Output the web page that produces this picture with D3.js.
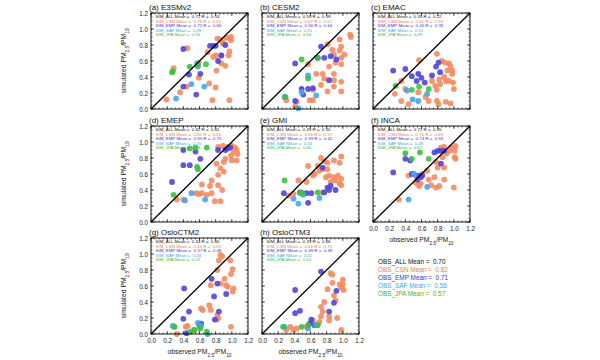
<!DOCTYPE html>
<html><head><meta charset="utf-8">
<script src="https://cdn.jsdelivr.net/npm/d3@7"></script>
<style>body{margin:0;background:#fff}svg{display:block;font-family:"Liberation Sans",Arial,Helvetica,sans-serif}</style>
</head><body><svg id="c" width="600" height="360"></svg>
<script>
// ---- Data ----
const models = ["E3SMv2","CESM2","EMAC","EMEP","GMI","INCA","OsloCTM2","OsloCTM3"];
const letters = ["a","b","c","d","e","f","g","h"];
const networks = ["CSN","EMP","SAF","JPA"];
const tickLabels = ["0.0","0.2","0.4","0.6","0.8","1.0","1.2"];
const simAllMean = ["0.72","0.59","0.35","0.82","0.45","0.72","0.34","0.33"];
const simAllR    = ["0.53","0.59","0.22","0.61","0.50","0.45","0.66","0.66"];
const simCsnMean = ["0.78","0.67","0.32","0.82","0.56","0.76","0.46","0.46"];
const simCsnR    = ["0.50","0.61","0.33","0.62","0.37","0.65","0.65","0.72"];
const simEmpMean = ["0.72","0.56","0.45","0.85","0.39","0.74","0.37","0.38"];
const simEmpR    = ["0.60","0.64","0.33","0.73","0.42","0.53","0.48","0.49"];
const simSafMean = ["0.39","0.31","0.15","0.45","0.34","0.48","0.04","0.02"];
const simJpaMean = ["0.56","0.54","0.29","0.79","0.40","0.67","0.07","0.10"];
const obsNames = ["OBS_ALL","OBS_CSN","OBS_EMP","OBS_SAF","OBS_JPA"];
const obsMeans = ["0.70","0.82","0.71","0.56","0.57"];

// observed (x), simulated (y) pairs per model and network
const E3SMv2_CSN = [[0.82,0.88],[0.85,0.87],[0.93,0.89],[0.97,0.89],[0.99,0.90],[0.99,0.86],[0.88,0.84],[0.89,0.82],[0.97,0.72],[0.70,0.71],[0.45,0.76],[0.80,0.67],[0.77,0.65],[0.87,0.67],[0.96,0.67],[0.87,0.57],[0.81,0.48],[0.59,0.58],[0.28,0.51],[0.59,0.39],[0.72,0.32],[0.80,0.27],[0.36,0.21],[0.19,0.12],[0.76,0.11],[0.97,0.11],[0.44,0.28],[0.92,0.54]];
const E3SMv2_EMP = [[0.40,0.75],[0.73,0.79],[0.77,0.79],[0.80,0.79],[0.92,0.80],[0.87,0.67],[0.83,0.60],[0.61,0.44],[0.47,0.43],[0.40,0.28],[0.56,0.18]];
const E3SMv2_SAF = [[0.58,0.53],[0.66,0.28],[0.50,0.31],[0.31,0.13],[0.57,0.57]];
const E3SMv2_JPA = [[0.26,0.46],[0.27,0.47],[0.48,0.53],[0.58,0.55],[0.68,0.56]];

const CESM2_CSN = [[1.09,0.93],[1.10,0.90],[0.96,0.87],[0.81,0.81],[0.98,0.78],[0.96,0.73],[0.87,0.74],[0.89,0.68],[1.02,0.68],[0.98,0.64],[0.91,0.58],[0.98,0.56],[0.83,0.53],[0.57,0.56],[0.75,0.44],[0.89,0.44],[0.77,0.38],[0.89,0.36],[0.98,0.34],[0.73,0.30],[0.81,0.22],[0.63,0.24],[0.59,0.11],[0.63,0.11],[0.43,0.09],[0.41,0.03],[0.30,0.11],[0.98,0.22],[0.89,0.28],[0.67,0.44]];
const CESM2_EMP = [[0.73,0.78],[0.41,0.57],[0.77,0.64],[0.85,0.66],[0.92,0.62],[0.69,0.64],[0.83,0.36],[0.57,0.25],[0.63,0.26],[0.51,0.18],[0.41,0.10],[0.49,0.25]];
const CESM2_SAF = [[0.57,0.42],[0.49,0.21],[0.67,0.17],[0.45,0.01],[0.28,0.15]];
const CESM2_JPA = [[0.49,0.62],[0.69,0.64],[0.57,0.38],[0.29,0.15]];

const EMAC_CSN = [[0.79,0.69],[0.85,0.60],[0.89,0.58],[0.94,0.57],[0.96,0.53],[0.98,0.48],[0.98,0.44],[0.92,0.48],[0.88,0.40],[0.90,0.35],[0.94,0.35],[0.99,0.33],[1.00,0.25],[0.82,0.37],[0.83,0.31],[0.77,0.29],[0.79,0.24],[0.73,0.35],[0.57,0.61],[0.35,0.35],[0.40,0.25],[0.56,0.21],[0.44,0.06],[0.35,0.10],[0.69,0.10],[0.79,0.10],[0.81,0.06],[0.90,0.09],[0.96,0.07],[0.65,0.15],[0.27,0.19]];
const EMAC_EMP = [[0.25,0.48],[0.40,0.50],[0.81,0.58],[0.78,0.53],[0.83,0.46],[0.56,0.44],[0.60,0.39],[0.54,0.35],[0.64,0.33],[0.73,0.42],[0.48,0.41]];
const EMAC_SAF = [[0.49,0.12],[0.56,0.10],[0.42,0.23],[0.67,0.19]];
const EMAC_JPA = [[0.28,0.29],[0.48,0.24],[0.57,0.28],[0.69,0.25]];

const EMEP_CSN = [[0.83,0.94],[0.89,0.95],[0.95,0.94],[1.00,0.95],[1.04,0.93],[1.06,0.90],[1.02,0.87],[1.07,0.85],[0.99,0.83],[0.92,0.79],[1.00,0.77],[1.06,0.77],[0.90,0.75],[0.81,0.73],[0.86,0.67],[0.83,0.59],[0.90,0.63],[0.75,0.52],[0.83,0.46],[0.88,0.40],[0.73,0.45],[0.63,0.47],[0.63,0.36],[0.75,0.36],[0.59,0.35],[0.56,0.36],[0.69,0.34],[0.32,0.28],[0.40,0.28],[0.79,0.26],[0.86,0.26]];
const EMEP_EMP = [[0.40,0.90],[0.55,0.88],[0.61,0.79],[0.40,0.71],[0.48,0.71],[0.83,0.90],[0.92,0.90],[0.95,0.92],[0.26,0.50],[0.98,0.93]];
const EMEP_SAF = [[0.50,0.36],[0.42,0.27],[0.67,0.28]];
const EMEP_JPA = [[0.48,0.92],[0.55,0.93],[0.69,0.93],[0.57,0.69],[0.58,0.66],[0.28,0.34]];

const GMI_CSN = [[0.73,0.80],[0.77,0.76],[0.89,0.77],[0.98,0.82],[0.96,0.74],[0.81,0.74],[0.81,0.66],[0.75,0.66],[0.69,0.70],[0.71,0.64],[0.57,0.70],[0.65,0.60],[0.63,0.58],[0.45,0.52],[0.55,0.50],[0.83,0.58],[0.89,0.56],[0.94,0.58],[0.98,0.54],[0.91,0.52],[0.96,0.48],[0.98,0.46],[0.85,0.50],[0.79,0.56],[0.33,0.33],[0.39,0.35],[0.75,0.37]];
const GMI_EMP = [[0.75,0.68],[0.27,0.36],[0.47,0.37],[0.55,0.36],[0.61,0.36],[0.77,0.37],[0.81,0.43],[0.85,0.45],[0.91,0.40],[0.83,0.40],[0.57,0.24]];
const GMI_SAF = [[0.39,0.29],[0.51,0.34],[0.71,0.30],[0.45,0.23]];
const GMI_JPA = [[0.28,0.52],[0.49,0.37],[0.69,0.37],[0.48,0.36]];

const INCA_CSN = [[0.84,0.93],[0.88,0.94],[0.97,0.93],[1.02,0.95],[1.01,0.89],[0.95,0.89],[0.91,0.86],[1.01,0.81],[1.02,0.79],[0.86,0.81],[0.80,0.68],[0.88,0.68],[0.78,0.75],[0.67,0.64],[0.61,0.60],[0.44,0.58],[0.53,0.58],[0.69,0.53],[0.76,0.56],[0.88,0.53],[0.82,0.45],[0.78,0.43],[0.72,0.46],[0.57,0.45],[0.59,0.48],[1.00,0.43],[0.32,0.28],[0.53,0.49]];
const INCA_EMP = [[0.80,0.89],[0.84,0.89],[0.88,0.89],[0.76,0.87],[0.40,0.79],[0.46,0.77],[0.84,0.73],[0.25,0.62],[0.57,0.58],[0.59,0.56],[0.61,0.58],[0.55,0.53],[0.48,0.60]];
const INCA_SAF = [[0.51,0.60],[0.67,0.44],[0.44,0.28]];
const INCA_JPA = [[0.40,0.86],[0.58,0.87],[0.48,0.79],[0.69,0.79]];

const OsloCTM2_CSN = [[0.86,0.99],[0.88,0.97],[0.84,0.92],[0.98,0.92],[0.82,0.80],[1.01,0.81],[0.99,0.75],[0.91,0.69],[0.93,0.61],[0.95,0.59],[1.01,0.53],[1.02,0.57],[0.86,0.63],[0.74,0.61],[0.72,0.36],[0.62,0.32],[0.64,0.30],[0.74,0.30],[0.82,0.24],[0.83,0.20],[0.82,0.18],[0.99,0.09],[0.43,0.09],[0.45,0.10],[0.29,0.09],[0.32,0.00],[0.53,0.05],[0.60,0.09]];
const OsloCTM2_EMP = [[0.41,0.57],[0.75,0.69],[0.82,0.63],[0.78,0.47],[0.93,0.50],[0.47,0.28],[0.84,0.28],[0.79,0.18],[0.40,0.19],[0.62,0.13],[0.60,0.12],[0.44,0.01]];
const OsloCTM2_SAF = [[0.27,0.10],[0.58,0.14],[0.62,0.10],[0.70,0.00]];
const OsloCTM2_JPA = [[0.29,0.09],[0.49,0.03],[0.61,0.07],[0.69,0.03],[0.54,0.05]];

const OsloCTM3_CSN = [[0.85,0.76],[0.87,0.74],[0.96,0.62],[1.00,0.62],[0.98,0.58],[1.01,0.55],[1.00,0.68],[0.87,0.64],[0.81,0.56],[0.89,0.48],[0.91,0.42],[0.77,0.40],[0.73,0.34],[0.75,0.28],[0.83,0.22],[0.83,0.17],[0.93,0.20],[0.73,0.22],[0.71,0.15],[0.98,0.05],[0.63,0.17],[0.55,0.09],[0.43,0.07],[0.39,0.05],[0.30,0.05],[0.35,0.09]];
const OsloCTM3_EMP = [[0.73,0.78],[0.41,0.55],[0.92,0.54],[0.89,0.39],[0.83,0.28],[0.47,0.29],[0.41,0.26],[0.61,0.18],[0.59,0.13],[0.65,0.11]];
const OsloCTM3_SAF = [[0.28,0.09],[0.57,0.07],[0.67,0.11]];
const OsloCTM3_JPA = [[0.26,0.09],[0.49,0.09],[0.57,0.11],[0.69,0.11]];

const panelData = [
  [E3SMv2_CSN,E3SMv2_EMP,E3SMv2_SAF,E3SMv2_JPA],
  [CESM2_CSN,CESM2_EMP,CESM2_SAF,CESM2_JPA],
  [EMAC_CSN,EMAC_EMP,EMAC_SAF,EMAC_JPA],
  [EMEP_CSN,EMEP_EMP,EMEP_SAF,EMEP_JPA],
  [GMI_CSN,GMI_EMP,GMI_SAF,GMI_JPA],
  [INCA_CSN,INCA_EMP,INCA_SAF,INCA_JPA],
  [OsloCTM2_CSN,OsloCTM2_EMP,OsloCTM2_SAF,OsloCTM2_JPA],
  [OsloCTM3_CSN,OsloCTM3_EMP,OsloCTM3_SAF,OsloCTM3_JPA]
];

// ---- Styles ----
const netColors = {CSN:"#f5895f", EMP:"#5045d6", SAF:"#43a6ee", JPA:"#3dc13d"};
const textColors = ["#111111","#f07a55","#3b34cc","#3fa3ef","#33bb33"];

const svg = d3.select("#c");
const W = 97, H = 96;
const colX = [151, 262, 373];
const rowY = [13, 126, 238];

function addSubText(sel, parts){
  parts.forEach(p=>{
    const t = sel.append("tspan").text(p.t);
    if(p.sub){ t.attr("baseline-shift","sub").attr("font-size","70%"); }
  });
}

models.forEach((m,i)=>{
  const col = i%3, row = Math.floor(i/3);
  const x0 = colX[col], y0 = rowY[row];
  const g = svg.append("g").attr("transform",`translate(${x0},${y0})`);
  const xs = d3.scaleLinear().domain([0,1.2]).range([0,W]);
  const ys = d3.scaleLinear().domain([0,1.2]).range([H,0]);

  // points
  panelData[i].forEach((pts,k)=>{
    g.append("g").selectAll("circle").data(pts).join("circle")
      .attr("cx",d=>xs(d[0])).attr("cy",d=>ys(d[1])).attr("r",2.9)
      .attr("fill",netColors[networks[k]]).attr("fill-opacity",0.9);
  });

  // 1:1 line
  g.append("line").attr("x1",xs(0)).attr("y1",ys(0)).attr("x2",xs(1.2)).attr("y2",ys(1.2))
    .attr("stroke","#000").attr("stroke-width",1.3);

  // axes with inward ticks on all sides
  const majors = d3.range(0,1.2001,0.2), minors = d3.range(0,1.2001,0.05);
  const tk = g.append("g").attr("stroke","#000").attr("stroke-width",0.6);
  minors.forEach(v=>{
    tk.append("line").attr("x1",xs(v)).attr("x2",xs(v)).attr("y1",H).attr("y2",H-1.5);
    tk.append("line").attr("x1",xs(v)).attr("x2",xs(v)).attr("y1",0).attr("y2",1.5);
    tk.append("line").attr("y1",ys(v)).attr("y2",ys(v)).attr("x1",0).attr("x2",1.5);
    tk.append("line").attr("y1",ys(v)).attr("y2",ys(v)).attr("x1",W).attr("x2",W-1.5);
  });
  majors.forEach(v=>{
    tk.append("line").attr("x1",xs(v)).attr("x2",xs(v)).attr("y1",H).attr("y2",H-3);
    tk.append("line").attr("x1",xs(v)).attr("x2",xs(v)).attr("y1",0).attr("y2",3);
    tk.append("line").attr("y1",ys(v)).attr("y2",ys(v)).attr("x1",0).attr("x2",3);
    tk.append("line").attr("y1",ys(v)).attr("y2",ys(v)).attr("x1",W).attr("x2",W-3);
  });
  g.append("rect").attr("width",W).attr("height",H).attr("fill","none").attr("stroke","#000").attr("stroke-width",0.9);

  // tick labels
  if(col===0){
    const ax = d3.axisLeft(ys).tickValues(majors).tickFormat((d,j)=>tickLabels[j]).tickSize(0).tickPadding(3);
    const a = g.append("g").call(ax);
    a.select(".domain").remove();
    a.selectAll("text").attr("font-size",6.3).attr("fill","#222").attr("font-family",'"Liberation Sans",Arial,sans-serif');
    const yt = g.append("text").attr("transform",`translate(-25,${H/2}) rotate(-90)`)
      .attr("text-anchor","middle").attr("font-size",6.8).attr("fill","#222");
    addSubText(yt,[{t:"simulated PM"},{t:"2.5",sub:true},{t:"/PM"},{t:"10",sub:true}]);
  }
  if(row===2 || i===5){
    const ax = d3.axisBottom(xs).tickValues(majors).tickFormat((d,j)=>tickLabels[j]).tickSize(0).tickPadding(5);
    const a = g.append("g").attr("transform",`translate(0,${H})`).call(ax);
    a.select(".domain").remove();
    a.selectAll("text").attr("font-size",6.3).attr("fill","#222").attr("font-family",'"Liberation Sans",Arial,sans-serif');
    const xt = g.append("text").attr("x",W/2).attr("y",H+20).attr("text-anchor","middle").attr("font-size",6.8).attr("fill","#222");
    addSubText(xt,[{t:"observed PM"},{t:"2.5",sub:true},{t:"/PM"},{t:"10",sub:true}]);
  }

  // title
  g.append("text").attr("x",-2).attr("y",-3).attr("font-size",8).attr("fill","#111")
    .text(`(${letters[i]}) ${m}`);

  // stats
  const lines = [
    `SIM_ALL Mean =  ${simAllMean[i]} R =  ${simAllR[i]}`,
    `SIM_CSN Mean =  ${simCsnMean[i]} R =  ${simCsnR[i]}`,
    `SIM_EMP Mean =  ${simEmpMean[i]} R =  ${simEmpR[i]}`,
    `SIM_SAF Mean =  ${simSafMean[i]}`,
    `SIM_JPA Mean =  ${simJpaMean[i]}`
  ];
  lines.forEach((s,k)=>{
    g.append("text").attr("x",4.5).attr("y",5.3+k*4.4).attr("font-size",4.4)
      .attr("fill",textColors[k]).style("white-space","pre").text(s);
  });
});

// legend of observed means
obsNames.forEach((n,k)=>{
  svg.append("text").attr("x",378).attr("y",264+k*8).attr("font-size",6.4)
    .attr("fill",textColors[k]).style("white-space","pre").text(`${n} Mean =  ${obsMeans[k]}`);
});
</script></body></html>
